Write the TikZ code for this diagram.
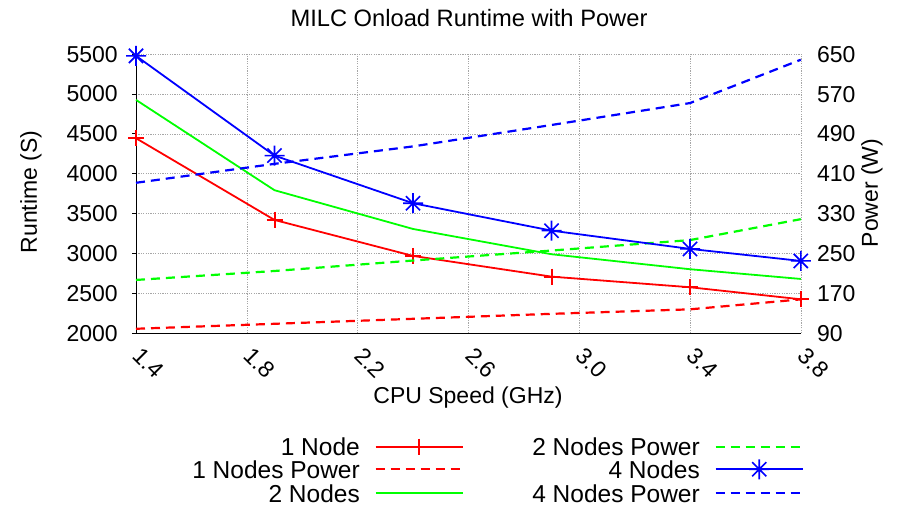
\documentclass[tikz,border=0pt]{standalone}
\usepackage{fontspec}
\setmainfont{Liberation Sans}
\definecolor{gpred}{RGB}{255,0,0}
\definecolor{gpgreen}{RGB}{0,255,0}
\definecolor{gpblue}{RGB}{0,0,255}
% gnuplot-like star mark (+ and x together)
\pgfdeclareplotmark{gpstar}{%
  \pgfpathmoveto{\pgfqpoint{-\pgfplotmarksize}{0pt}}%
  \pgfpathlineto{\pgfqpoint{\pgfplotmarksize}{0pt}}%
  \pgfpathmoveto{\pgfqpoint{0pt}{-\pgfplotmarksize}}%
  \pgfpathlineto{\pgfqpoint{0pt}{\pgfplotmarksize}}%
  \pgfpathmoveto{\pgfqpoint{-.707\pgfplotmarksize}{-.707\pgfplotmarksize}}%
  \pgfpathlineto{\pgfqpoint{.707\pgfplotmarksize}{.707\pgfplotmarksize}}%
  \pgfpathmoveto{\pgfqpoint{-.707\pgfplotmarksize}{.707\pgfplotmarksize}}%
  \pgfpathlineto{\pgfqpoint{.707\pgfplotmarksize}{-.707\pgfplotmarksize}}%
  \pgfusepathqstroke}
\tikzset{
  rtaxis/.style={shift={(-251.8pt,14.3pt)}, x=277pt, y=0.07972pt},
  pwaxis/.style={shift={(-251.8pt,128.9pt)}, x=277pt, y=0.49825pt},
  gridline/.style={gray!70, line width=0.6pt, dash pattern=on 1.2pt off 1.2pt},
  runline/.style={line width=1.8pt},
  powline/.style={line width=2.2pt, dash pattern=on 9pt off 6pt},
  onemark/.style={mark=+, mark size=8pt, mark options={solid, gpred, line width=2pt}},
  twomark/.style={mark=square*, mark size=1.8pt, mark options={solid}},
  fourmark/.style={mark=gpstar, mark size=10pt, mark options={solid, line width=1.6pt}},
  lbl/.style={font=\fontsize{23}{26}\selectfont, inner sep=0pt},
  keylbl/.style={font=\fontsize{24.5}{28}\selectfont, inner sep=0pt, anchor=east}
}
\begin{document}
\begin{tikzpicture}[x=1pt, y=1pt]

  \useasboundingbox (0,0) rectangle (899,507);

  % Title and axis labels
  \node (title) at (469, 489) [lbl, font=\fontsize{23.7}{27}\selectfont] {MILC Onload Runtime with Power};
  \node (xlabel) at (468, 109) [lbl] {CPU Speed (GHz)};
  \node (ylabel) at (31, 315) [lbl, rotate=90] {Runtime (S)};
  \node (y2label) at (872, 314) [lbl, rotate=90] {Power (W)};

  % Grid, axes and tick labels
  \begin{scope}[rtaxis]
    \foreach \gx in {1.8, 2.2, 2.6, 3.0, 3.4, 3.8}
      \draw[gridline] (\gx, 2000) -- (\gx, 5500);
    \foreach \gy in {2500, 3000, ..., 5500}
      \draw[gridline] (1.4, \gy) -- (3.8, \gy);

    \draw[line width=0.9pt] (1.4, 5500) -- (1.4, 2000) -- (3.8, 2000);
    \foreach \gy in {2000, 2500, ..., 5500} {
      \draw[line width=0.9pt] (1.4, \gy) -- ++(-4pt, 0);
      \node (yt\gy) at (1.4, \gy) [lbl, anchor=east, xshift=-18pt] {\gy};
    }
    \foreach \gx in {1.4, 1.8, 2.2, 2.6, 3.0, 3.4, 3.8}
      \node (xt\gx) at (\gx, 2000) [lbl, xshift=7pt, yshift=-12.5pt, rotate=-45, anchor=north west] {\gx};
  \end{scope}
  \begin{scope}[pwaxis]
    \foreach \gy in {90, 170, ..., 650}
      \node (pt\gy) at (3.8, \gy) [lbl, anchor=west, xshift=16pt] {\gy};
  \end{scope}

  % 1 Node
  \begin{scope}[rtaxis]
    \draw[gpred, runline] plot[onemark] coordinates
      {(1.4,4446) (1.9,3421) (2.4,2970) (2.9,2710) (3.4,2577) (3.8,2426)};
  \end{scope}
  % 1 Nodes Power
  \begin{scope}[pwaxis]
    \draw[gpred, powline] plot coordinates
      {(1.4,99) (1.9,109) (2.4,119) (2.9,129) (3.4,138) (3.8,158)};
  \end{scope}
  % 2 Nodes
  \begin{scope}[rtaxis]
    \draw[gpgreen, runline] plot[twomark] coordinates
      {(1.4,4927) (1.9,3794) (2.4,3308) (2.9,2991) (3.4,2803) (3.8,2681)};
  \end{scope}
  % 2 Nodes Power
  \begin{scope}[pwaxis]
    \draw[gpgreen, powline] plot coordinates
      {(1.4,197) (1.9,215) (2.4,236) (2.9,256) (3.4,277) (3.8,319)};
  \end{scope}
  % 4 Nodes
  \begin{scope}[rtaxis]
    \draw[gpblue, runline] plot[fourmark] coordinates
      {(1.4,5479) (1.9,4228) (2.4,3631) (2.9,3287) (3.4,3058) (3.8,2907)};
  \end{scope}
  % 4 Nodes Power
  \begin{scope}[pwaxis]
    \draw[gpblue, powline] plot coordinates
      {(1.4,392) (1.9,430) (2.4,465) (2.9,508) (3.4,552) (3.8,639)};
  \end{scope}

  % Legend, left column
  \node (k1) at (360, 60.3) [keylbl] {1 Node};
  \node (k2) at (360, 37.7) [keylbl] {1 Nodes Power};
  \node (k3) at (360, 13.7) [keylbl] {2 Nodes};
  \begin{scope}
    \draw[gpred, runline] (375.7,60.3) -- (462.7,60.3);
    \draw[gpred] plot[onemark] coordinates {(419.2,60.3)};
  \end{scope}
  \begin{scope}
    \draw[gpred, powline] (375.7,37.7) -- (462.7,37.7);
  \end{scope}
  \begin{scope}
    \draw[gpgreen, runline] (375.7,13.7) -- (462.7,13.7);
    \draw[gpgreen] plot[twomark] coordinates {(419.2,13.7)};
  \end{scope}

  % Legend, right column
  \node (k4) at (700, 60.3) [keylbl] {2 Nodes Power};
  \node (k5) at (700, 37.7) [keylbl] {4 Nodes};
  \node (k6) at (700, 13.7) [keylbl] {4 Nodes Power};
  \begin{scope}
    \draw[gpgreen, powline] (715.7,60.3) -- (802.7,60.3);
  \end{scope}
  \begin{scope}
    \draw[gpblue, runline] (715.7,37.7) -- (802.7,37.7);
    \draw[gpblue] plot[fourmark] coordinates {(759.2,37.7)};
  \end{scope}
  \begin{scope}
    \draw[gpblue, powline] (715.7,13.7) -- (802.7,13.7);
  \end{scope}

\end{tikzpicture}
\end{document}
